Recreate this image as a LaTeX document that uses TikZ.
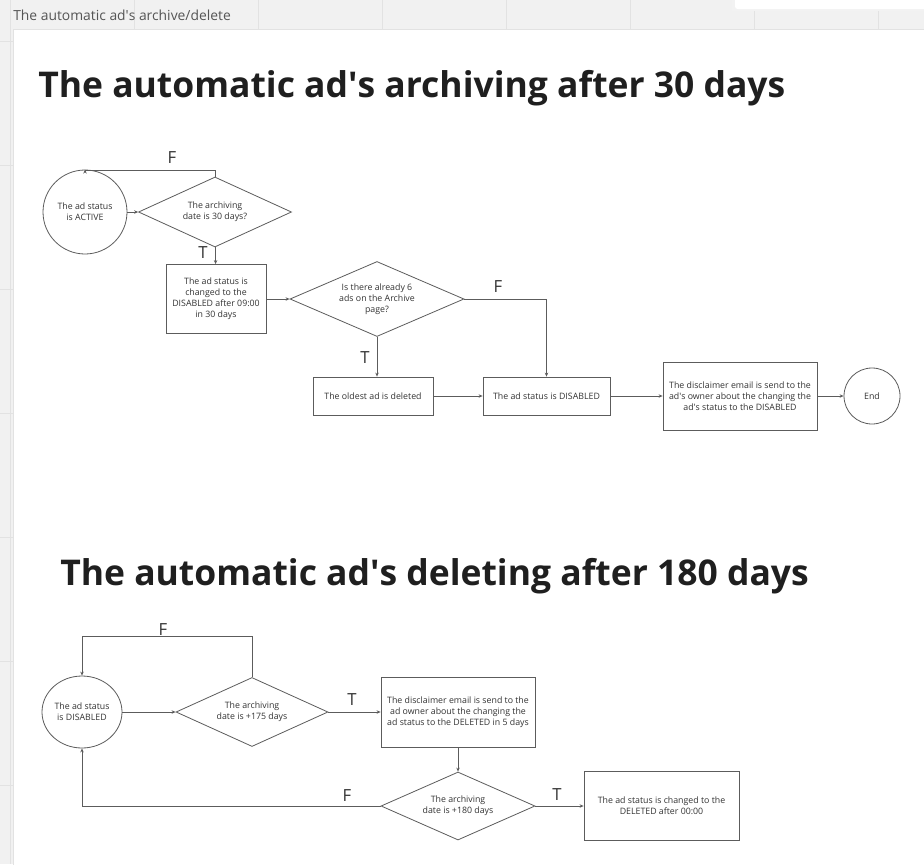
\documentclass[tikz,border=0pt]{standalone}
\usepackage{fontspec}
\setmainfont{Open Sans}
\usetikzlibrary{shapes.geometric,arrows.meta}

\definecolor{boardgray}{HTML}{F1F1F1}
\definecolor{gridgray}{HTML}{E2E2E2}
\definecolor{linegray}{HTML}{5C5C5C}
\definecolor{textgray}{HTML}{333333}
\definecolor{headgray}{HTML}{555555}
\newcommand{\ap}{\textquotesingle}

\tikzset{
  flowbox/.style={draw=linegray, line width=0.6pt, align=center, text=textgray,
    font=\fontsize{6.6}{8.3}\selectfont, inner sep=1pt},
  flowdecision/.style={flowbox, diamond, aspect=2, inner sep=0pt},
  flowstate/.style={flowbox, ellipse, inner sep=0pt},
  flowarrow/.style={draw=linegray, line width=0.6pt, -{Stealth[length=3pt,width=2.6pt]}},
  branchlabel/.style={text=textgray, font=\fontsize{12.5}{14}\selectfont, inner sep=0pt},
  heading/.style={text=black!88, font=\fontsize{26.6}{31}\selectfont\bfseries, inner sep=0pt}
}

\begin{document}
\begin{tikzpicture}[x=0.75pt, y=-0.75pt]
    \useasboundingbox (0,0) rectangle (924,864);

    % Board background with grid
    \fill[boardgray] (0,0) rectangle (924,864);
    \foreach \x in {10,134,...,900} {
        \draw[gridgray] (\x,0) -- (\x,864);
    }
    \foreach \y in {41,165,...,864} {
        \draw[gridgray] (0,\y) -- (924,\y);
    }
    \fill[black!5] (732,-5) rectangle (930,11);
    \fill[white, rounded corners=2pt] (735,-5) rectangle (930,9);
    \filldraw[fill=white, draw=gridgray] (13,29) rectangle (930,870);
    \node[anchor=west, text=headgray, font=\fontsize{10.4}{12}\selectfont, inner sep=0pt]
        (boardname) at (13,15) {The automatic ad\ap s archive/delete};

    % Archiving after 30 days
    \node[heading, anchor=base west] (title30) at (38,97)
        {The automatic ad\ap s archiving after 30 days};

    \node[flowstate, minimum width=63pt, minimum height=63pt] (active) at (85,212)
        {The ad status\\is ACTIVE};
    \node[flowdecision, minimum width=114.75pt, minimum height=52.5pt] (check30) at (215,212)
        {The archiving\\date is 30 days?};
    \node[flowbox, minimum width=75pt, minimum height=51.75pt] (changed) at (216,299)
        {The ad status is\\changed to the\\DISABLED after 09:00\\in 30 days};
    \node[flowdecision, minimum width=130.5pt, minimum height=56.25pt] (sixads) at (377,299)
        {Is there already 6\\ads on the Archive\\page?};
    \node[flowbox, minimum width=90pt, minimum height=28.5pt] (oldest) at (373,396)
        {The oldest ad is deleted};
    \node[flowbox, minimum width=95.25pt, minimum height=28.5pt] (disabled) at (546.5,396)
        {The ad status is DISABLED};
    \node[flowbox, minimum width=115.5pt, minimum height=51pt] (email30) at (740,396)
        {The disclaimer email is send to the\\ad\ap s owner about the changing the\\ad\ap s status to the DISABLED};
    \node[flowstate, minimum width=42pt, minimum height=42pt] (end) at (872,396) {End};

    \draw[flowarrow] (active) -- (check30);
    \draw[flowarrow] (check30.north) -- ++(0,-6) -| (active.north);
    \draw[flowarrow] (check30) -- (changed);
    \draw[flowarrow] (changed) -- (sixads);
    \draw[flowarrow] (sixads.south) -- (sixads.south |- oldest.north);
    \draw[flowarrow] (sixads.east) -| (disabled.north);
    \draw[flowarrow] (oldest) -- (disabled);
    \draw[flowarrow] (disabled) -- (email30);
    \draw[flowarrow] (email30) -- (end);

    % Deleting after 180 days
    \node[heading, anchor=base west] (title180) at (60,585)
        {The automatic ad\ap s deleting after 180 days};

    \node[flowstate, minimum width=60pt, minimum height=54pt] (isdisabled) at (82,712)
        {The ad status\\is DISABLED};
    \node[flowdecision, minimum width=114pt, minimum height=51.75pt] (check175) at (252,712)
        {The archiving\\date is +175 days};
    \node[flowbox, minimum width=115.5pt, minimum height=52.5pt] (email180) at (458,712)
        {The disclaimer email is send to the\\ad owner about the changing the\\ad status to the DELETED in 5 days};
    \node[flowdecision, minimum width=115.5pt, minimum height=51pt] (check180) at (458,806)
        {The archiving\\date is +180 days};
    \node[flowbox, minimum width=116.25pt, minimum height=51.75pt] (deleted) at (661.5,806)
        {The ad status is changed to the\\DELETED after 00:00};

    \draw[flowarrow] (isdisabled) -- (check175);
    \draw[flowarrow] (check175.north) -- ++(0,-41) -| (isdisabled.north);
    \draw[flowarrow] (check175) -- (email180);
    \draw[flowarrow] (email180) -- (check180);
    \draw[flowarrow] (check180.west) -| (isdisabled.south);
    \draw[flowarrow] (check180) -- (deleted);

    % T/F branch labels
    \foreach \x/\y/\t [count=\i] in {172/158/F, 203/253/T, 498/287/F, 365/358/T,
                                     163/630/F, 352/700/T, 347/796/F, 557/795/T} {
        \node[branchlabel] (branch\i) at (\x,\y) {\t};
    }

\end{tikzpicture}
\end{document}
